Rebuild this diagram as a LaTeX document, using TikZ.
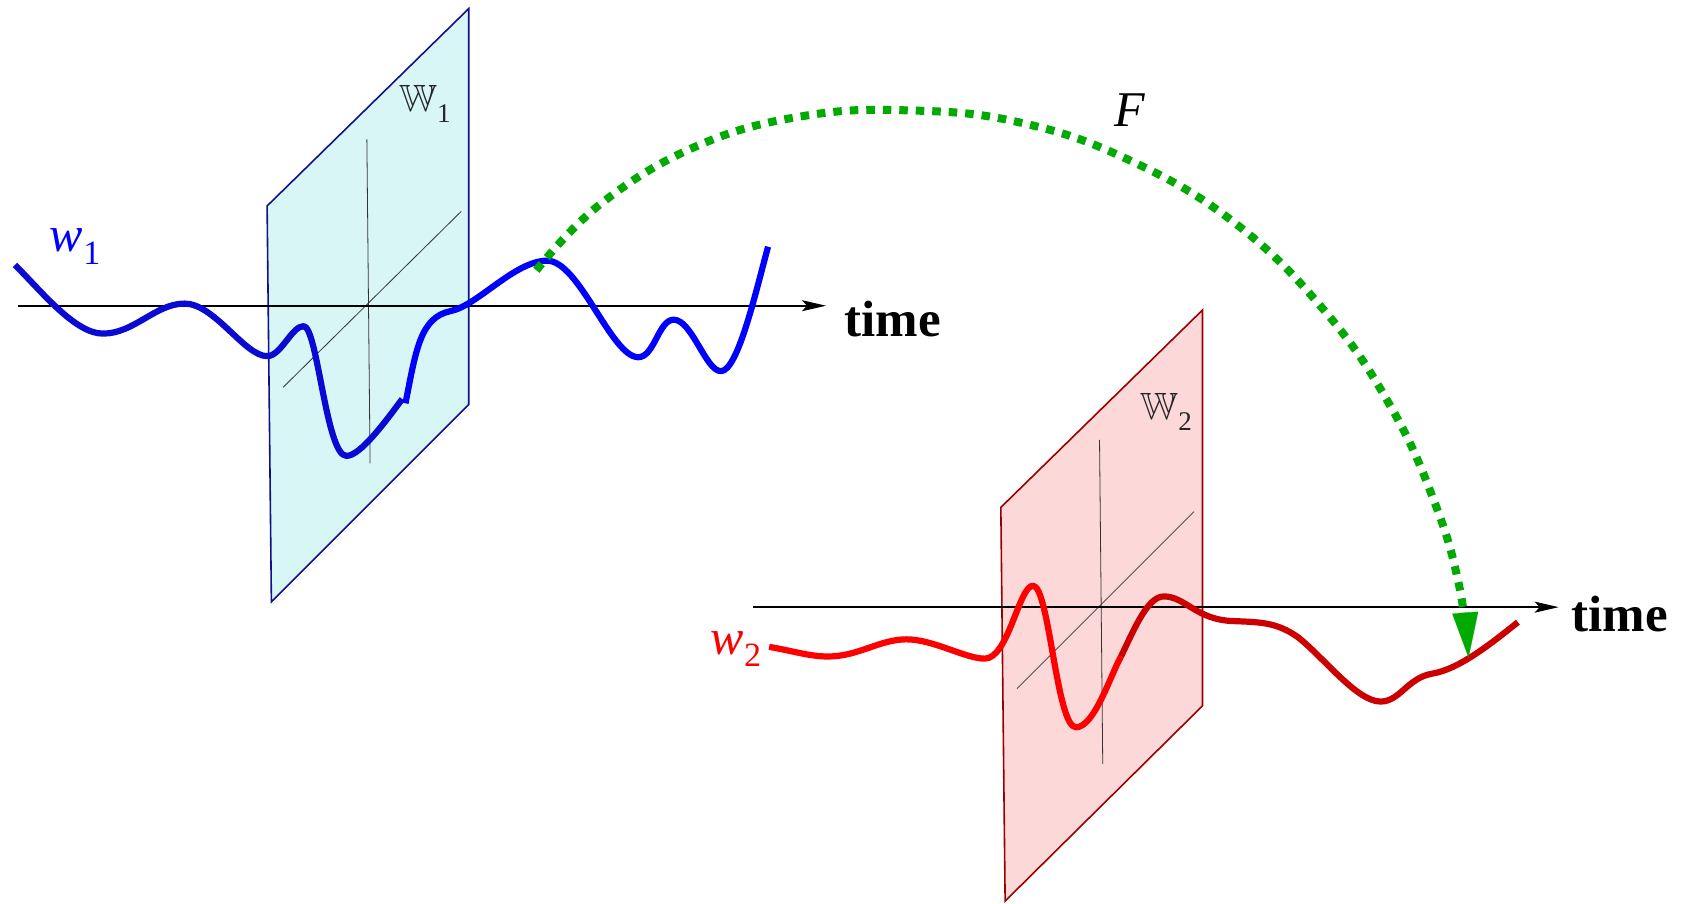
\documentclass[tikz,border=0pt]{standalone}
\usepackage{amssymb}
\usepackage{fontspec}
\setmainfont{Liberation Serif}
\usetikzlibrary{arrows.meta}
\definecolor{cyanfill}{HTML}{D8F6F6}
\definecolor{cyanedge}{HTML}{10108A}
\definecolor{pinkfill}{HTML}{FDD8D8}
\definecolor{pinkedge}{HTML}{990000}
\definecolor{bluedark}{HTML}{0A0AD2}
\definecolor{bluebright}{HTML}{0000FF}
\definecolor{redbright}{HTML}{FF0000}
\definecolor{reddark}{HTML}{CC0000}
\definecolor{arcgreen}{HTML}{00AA00}
\tikzset{
  panelone/.style={fill=cyanfill,draw=cyanedge,line width=1.6pt,line join=miter},
  paneltwo/.style={fill=pinkfill,draw=pinkedge,line width=1.6pt,line join=miter},
  inner/.style={draw=black!80,line width=0.8pt},
  axisline/.style={draw=black,line width=1.7pt,-{Stealth[length=24pt,width=11pt,inset=5pt]}},
  wave/.style={line width=6.2pt,line cap=butt,line join=round},
  timelabel/.style={font=\fontsize{51}{51}\selectfont\bfseries,inner sep=0pt},
  biglabel/.style={font=\fontsize{50}{50}\selectfont\itshape,inner sep=0pt},
  spacelabel/.style={font=\fontsize{38}{38}\selectfont,inner sep=0pt,text=black!85},
  maparrow/.style={draw=arcgreen,line width=8pt,dash pattern=on 8.5pt off 8pt,
     -{Triangle[length=45pt,width=26pt,line width=0.1pt,fill=arcgreen]}}
}
\begin{document}
\begin{tikzpicture}[x=1.0727pt,y=-1.0727pt]
\useasboundingbox (0,0) rectangle (1568,842);
% panel 1
\path[panelone] (249,192) -- (437,8) -- (437,377) -- (253,561) -- cycle;
\coordinate (v1a) at (342,130); \coordinate (v1b) at (345,432);
\coordinate (d1a) at (264,361); \coordinate (d1b) at (430,197);
\draw[inner] (v1a) -- (v1b);
\draw[inner] (d1a) -- (d1b);
\node[spacelabel] (W1) at (396,97) {$\mathbb{W}$\raisebox{-0.3em}{\fontsize{27}{27}\selectfont 1}};
% panel 2
\path[paneltwo] (933,473) -- (1121,289) -- (1121,658) -- (937,840) -- cycle;
\coordinate (v2a) at (1025,410); \coordinate (v2b) at (1028,712);
\coordinate (d2a) at (948,642); \coordinate (d2b) at (1113,477);
\draw[inner] (v2a) -- (v2b);
\draw[inner] (d2a) -- (d2b);
\node[spacelabel] (W2) at (1087,384) {$\mathbb{W}$\raisebox{-0.3em}{\fontsize{27}{27}\selectfont 2}};
% axes
\coordinate (a1s) at (17,285); \coordinate (a1e) at (770,285);
\draw[axisline] (a1s) -- (a1e);
\node[timelabel] (t1) at (832,297) {time};
\coordinate (a2s) at (702,566); \coordinate (a2e) at (1453,566);
\draw[axisline] (a2s) -- (a2e);
\node[timelabel] (t2) at (1510,572) {time};
% blue wave
\draw[wave,bluedark] (14,247) .. controls (39,272) and (70,311) .. (96,311)
  .. controls (125,311) and (145,283) .. (172,283)
  .. controls (200,283) and (228,332) .. (249,332)
  .. controls (262,332) and (272,304) .. (283,304)
  .. controls (296,304) and (304,425) .. (323,425)
  .. controls (336,425) and (360,392) .. (375,372);
\draw[wave,bluebright] (378,376) .. controls (388,325) and (392,296) .. (420,290)
  .. controls (445,285) and (480,243) .. (510,243)
  .. controls (540,243) and (570,333) .. (595,333)
  .. controls (610,333) and (614,298) .. (628,298)
  .. controls (645,298) and (658,346) .. (672,346)
  .. controls (688,346) and (705,270) .. (716,230);
\node[biglabel,text=bluebright] (w1) at (70,230) {w\raisebox{-0.25em}{\fontsize{34}{34}\selectfont\upshape 1}};
% red wave
\draw[wave,redbright] (717,603) .. controls (740,607) and (755,612) .. (772,612)
  .. controls (800,612) and (820,596) .. (845,596)
  .. controls (870,596) and (900,614) .. (918,614)
  .. controls (940,614) and (950,546) .. (963,546)
  .. controls (978,546) and (985,678) .. (1003,678)
  .. controls (1020,678) and (1035,630) .. (1045,612);
\draw[wave,reddark] (1045,612) .. controls (1058,585) and (1070,556) .. (1085,556)
  .. controls (1105,556) and (1115,578) .. (1150,579)
  .. controls (1175,580) and (1190,580) .. (1210,594)
  .. controls (1235,614) and (1265,654) .. (1287,654)
  .. controls (1305,654) and (1312,632) .. (1335,628)
  .. controls (1360,624) and (1390,600) .. (1415,580);
\node[biglabel,text=redbright] (w2) at (686,605) {w\raisebox{-0.25em}{\fontsize{34}{34}\selectfont\upshape 2}};
% map F
\coordinate (Fs) at (500,252);
\coordinate (Fe) at (1369,613);
\draw[maparrow] plot[smooth,tension=0.7] coordinates {(Fs) (560,190) (650,136) (750,108) (850,103) (950,114) (1050,148) (1150,207) (1235,290) (1297,380) (1338,470) (1360,545) (Fe)};
\node[biglabel] (F) at (1053,103) {F};
\end{tikzpicture}
\end{document}
